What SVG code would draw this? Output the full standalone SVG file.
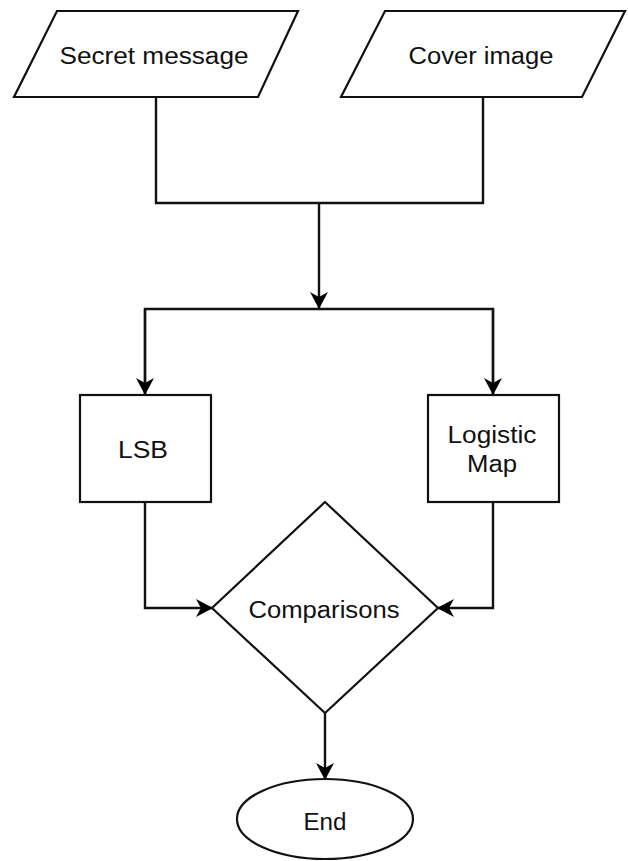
<svg xmlns="http://www.w3.org/2000/svg" width="628" height="861" viewBox="0 0 628 861">
<defs>
<marker id="arr" viewBox="0 0 17 18" refX="16" refY="9" markerWidth="17" markerHeight="18" markerUnits="userSpaceOnUse" orient="auto">
<path d="M0,0 L17,9 L0,18 L5,9 Z" fill="#000"/>
</marker>
<style>
.shape{fill:#fff;stroke:#111;stroke-width:2.2}
.lbl{font-family:"Liberation Sans",Arial,sans-serif;font-size:23.5px;fill:#111;text-anchor:middle}
.edge{fill:none;stroke:#111;stroke-width:2.4}
</style>
</defs>
<rect width="628" height="861" fill="#fff"/>
<g id="connectors">
<path class="edge" d="M156,97 V203 H483 V97"/>
<path class="edge" d="M319,203 V308" marker-end="url(#arr)"/>
<path class="edge" d="M145,394 V309 H493 V394" />
<path class="edge" d="M145,309 V394" marker-end="url(#arr)"/>
<path class="edge" d="M493,309 V394" marker-end="url(#arr)"/>
<path class="edge" d="M145,502 V608 H212" marker-end="url(#arr)"/>
<path class="edge" d="M493,502 V608 H438" marker-end="url(#arr)"/>
<path class="edge" d="M325,713 V779" marker-end="url(#arr)"/>
</g>
<g id="secret">
<polygon class="shape" points="57,11 298,11 258,97 14,97"/>
<text class="lbl" x="154" y="64" textLength="189" lengthAdjust="spacingAndGlyphs">Secret message</text>
</g>
<g id="cover">
<polygon class="shape" points="385,11 625,11 582,97 341,97"/>
<text class="lbl" x="481" y="64" textLength="145" lengthAdjust="spacingAndGlyphs">Cover image</text>
</g>
<g id="lsb">
<rect class="shape" x="80" y="395" width="131" height="107"/>
<text class="lbl" x="143" y="458" textLength="50" lengthAdjust="spacingAndGlyphs">LSB</text>
</g>
<g id="logistic">
<rect class="shape" x="428" y="395" width="131" height="107"/>
<text class="lbl" x="492" y="443" textLength="89" lengthAdjust="spacingAndGlyphs">Logistic</text>
<text class="lbl" x="492" y="472" textLength="50" lengthAdjust="spacingAndGlyphs">Map</text>
</g>
<g id="comparisons">
<polygon class="shape" points="325,502 438,608 325,713 212,608"/>
<text class="lbl" x="324" y="618" textLength="151" lengthAdjust="spacingAndGlyphs">Comparisons</text>
</g>
<g id="end">
<ellipse class="shape" cx="325" cy="819" rx="88" ry="40"/>
<text class="lbl" x="325" y="830" textLength="43" lengthAdjust="spacingAndGlyphs">End</text>
</g>
</svg>
